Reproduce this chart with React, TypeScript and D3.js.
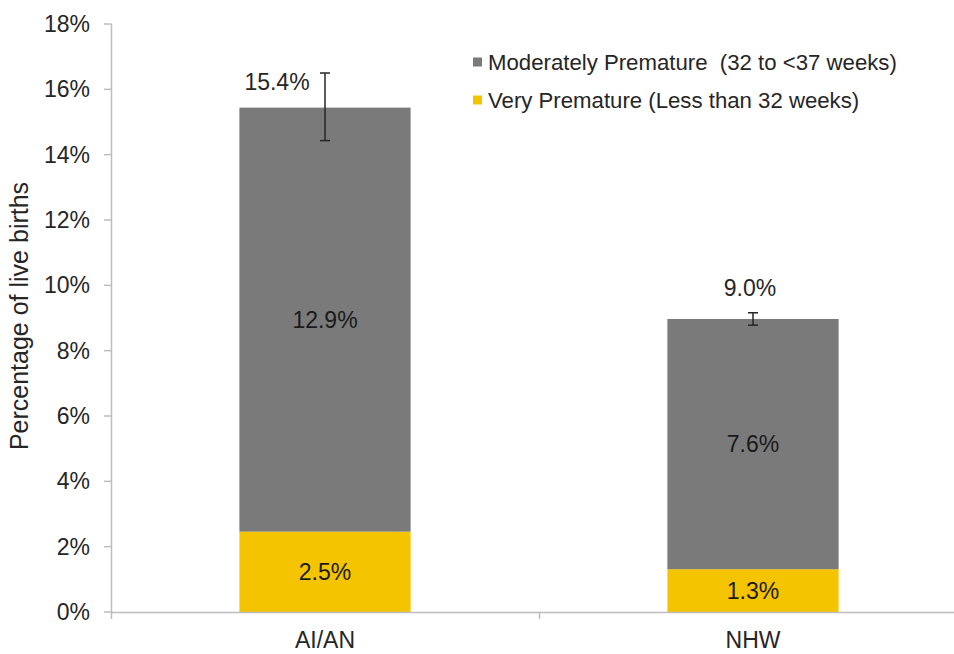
import React from "react";
import * as d3 from "d3";

const categories = ["AI/AN", "NHW"];
const veryPremature = [2.46, 1.31];
const moderatelyPremature = [12.98, 7.66];
const veryLabels = ["2.5%", "1.3%"];
const moderateLabels = ["12.9%", "7.6%"];
const totalLabels = ["15.4%", "9.0%"];
const errorLow = [14.43, 8.78];
const errorHigh = [16.5, 9.16];
const yTicks = [0, 2, 4, 6, 8, 10, 12, 14, 16, 18];
const seriesNames = ["Moderately Premature  (32 to <37 weeks)", "Very Premature (Less than 32 weeks)"];
const colors = ["#7a7a7a", "#f5c400"];
const totalLabelShift = [-48, -3];

const W = 954;
const H = 654;
const FONT = "Liberation Sans, Arial, sans-serif";

export default function App() {
  const x = d3.scaleBand<string>().domain(categories).range([111, 967]).paddingInner(0.6).paddingOuter(0.3);
  const y = d3.scaleLinear().domain([0, 18]).range([612, 24]);
  const bw = x.bandwidth();

  return (
    <svg width={W} height={H} style={{ position: "absolute", left: 0, top: 0, background: "#fff" }} fontFamily={FONT}>
      {/* y axis */}
      <line x1={111.5} x2={111.5} y1={y(18)} y2={y(0)} stroke="#bdbdbd" strokeWidth={1.5} />
      {yTicks.map((t) => (
        <g key={t}>
          <line x1={104} x2={111.5} y1={y(t)} y2={y(t)} stroke="#bdbdbd" strokeWidth={1.5} />
          <text x={90} y={y(t)} dy="0.35em" textAnchor="end" fontSize={23} fill="#262626">
            {t}%
          </text>
        </g>
      ))}
      <text transform={`translate(28,316) rotate(-90)`} textAnchor="middle" fontSize={25} fill="#262626">
        Percentage of live births
      </text>

      {/* bars */}
      {categories.map((c, i) => {
        const x0 = x(c)!;
        const cx = x0 + bw / 2;
        const top = veryPremature[i] + moderatelyPremature[i];
        return (
          <g key={c}>
            <rect x={x0} y={y(veryPremature[i])} width={bw} height={y(0) - y(veryPremature[i])} fill={colors[1]} />
            <rect x={x0} y={y(top)} width={bw} height={y(veryPremature[i]) - y(top)} fill={colors[0]} />
            <text x={cx} y={y(veryPremature[i] / 2)} dy="0.35em" textAnchor="middle" fontSize={23} fill="#1a1a1a">
              {veryLabels[i]}
            </text>
            <text
              x={cx}
              y={y(veryPremature[i] + moderatelyPremature[i] / 2)}
              dy="0.35em"
              textAnchor="middle"
              fontSize={23}
              fill="#1a1a1a"
            >
              {moderateLabels[i]}
            </text>
            {/* error bar */}
            <g stroke="#262626" strokeWidth={1.5}>
              <line x1={cx} x2={cx} y1={y(errorLow[i])} y2={y(errorHigh[i])} />
              <line x1={cx - 5} x2={cx + 5} y1={y(errorLow[i])} y2={y(errorLow[i])} />
              <line x1={cx - 5} x2={cx + 5} y1={y(errorHigh[i])} y2={y(errorHigh[i])} />
            </g>
            <text
              x={cx + totalLabelShift[i]}
              y={i === 0 ? y(errorHigh[i]) + 9 : y(top) - 31}
              dy="0.35em"
              textAnchor="middle"
              fontSize={23}
              fill="#262626"
            >
              {totalLabels[i]}
            </text>
            <text x={cx} y={640} dy="0.35em" textAnchor="middle" fontSize={23} fill="#262626">
              {c}
            </text>
          </g>
        );
      })}

      {/* x axis */}
      <line x1={111} x2={967} y1={612.5} y2={612.5} stroke="#bdbdbd" strokeWidth={1.5} />
      {[111, 539].map((tx) => (
        <line key={tx} x1={tx + 0.5} x2={tx + 0.5} y1={612} y2={619} stroke="#bdbdbd" strokeWidth={1.5} />
      ))}

      {/* legend */}
      {seriesNames.map((s, i) => (
        <g key={s} transform={`translate(473,${62 + i * 38})`}>
          <rect x={0} y={-4.5} width={9} height={9} fill={colors[i]} />
          <text x={15} y={0} dy="0.35em" fontSize={22.2} fill="#262626" style={{ whiteSpace: "pre" }}>
            {s}
          </text>
        </g>
      ))}
    </svg>
  );
}
